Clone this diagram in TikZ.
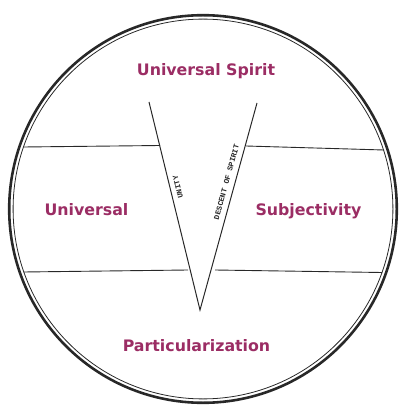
\documentclass[tikz,border=0pt]{standalone}
\usepackage{fontspec}
\setmainfont{DejaVu Sans}
\newfontfamily\monofont{Liberation Mono}
\definecolor{labelred}{RGB}{155,45,100}
\definecolor{ink}{RGB}{40,40,40}
\tikzset{
  rim/.style={draw=ink, line width=2.6pt},
  rimthin/.style={draw=ink, line width=0.8pt},
  divider/.style={draw=ink, line width=0.9pt},
  vline/.style={draw=ink, line width=1pt},
  biglabel/.style={text=labelred, font=\fontsize{15.8}{18}\selectfont\bfseries, inner sep=0pt},
  smalllabel/.style={text=ink, font=\fontsize{7.6}{9}\selectfont\monofont\bfseries, inner sep=0pt}
}
\begin{document}
\begin{tikzpicture}[x=1pt,y=-1pt]
\useasboundingbox (0,0) rectangle (414,411);
% circle
\coordinate (c) at (203,209);
\draw[rim] (c) circle[radius=193.8];
\draw[rimthin] (c) circle[radius=189.9];
% V
\coordinate (vl) at (149,102);
\coordinate (apex) at (200,310);
\coordinate (vr) at (257,103);
\draw[vline] (vl) -- (apex) -- (vr);
% dividers
\coordinate (ul1) at (23.5,147);
\coordinate (ul2) at (160,145.5);
\coordinate (ur1) at (246,146);
\coordinate (ur2) at (384,150);
\coordinate (ll1) at (23.5,272);
\coordinate (ll2) at (188,270);
\coordinate (lr1) at (215,270);
\coordinate (lr2) at (382,272.5);
\draw[divider] (ul1) -- (ul2);
\draw[divider] (ur1) -- (ur2);
\draw[divider] (ll1) -- (ll2);
\draw[divider] (lr1) -- (lr2);
% labels
\node[biglabel] (spirit) at (206,71) {Universal Spirit};
\node[biglabel] (univ) at (86.5,210) {Universal};
\node[biglabel] (subj) at (308.5,211) {Subjectivity};
\node[biglabel] (part) at (196.5,346) {Particularization};
\node[smalllabel, rotate=104] (unity) at (178,187) {UNITY};
\node[smalllabel, rotate=74.6] (descent) at (226.5,182) {DESCENT OF SPIRIT};
\end{tikzpicture}
\end{document}
